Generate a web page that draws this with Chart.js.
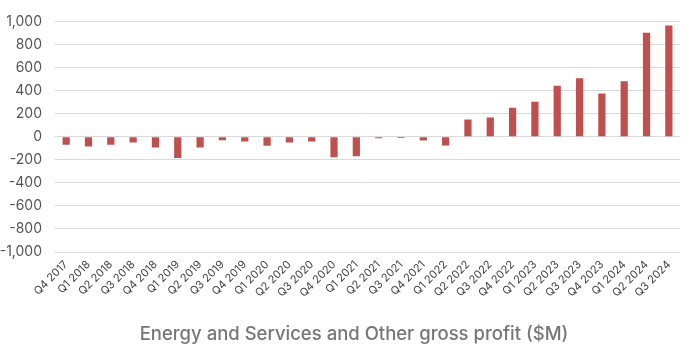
<!DOCTYPE html>
<html>
<head>
<meta charset="utf-8">
<script src="https://cdn.jsdelivr.net/npm/chart.js@4/dist/chart.umd.min.js"></script>
<style>
html,body{margin:0;padding:0;background:#fff;}
#wrap{width:694px;height:352px;position:relative;}
</style>
</head>
<body>
<div id="wrap"><canvas id="c" width="694" height="352"></canvas></div>
<script>
const categories = ["Q4 2017","Q1 2018","Q2 2018","Q3 2018","Q4 2018","Q1 2019","Q2 2019","Q3 2019","Q4 2019","Q1 2020","Q2 2020","Q3 2020","Q4 2020","Q1 2021","Q2 2021","Q3 2021","Q4 2021","Q1 2022","Q2 2022","Q3 2022","Q4 2022","Q1 2023","Q2 2023","Q3 2023","Q4 2023","Q1 2024","Q2 2024","Q3 2024"];
const grossProfit = [-70,-85,-70,-50,-93,-184,-93,-31,-42,-79,-51,-42,-178,-170,-14,-12,-34,-76,150,167,252,303,442,507,374,482,902,965];
const yTicks = {min:-1000, max:1000, step:200};
const axisTitle = "Energy and Services and Other gross profit ($M)";

// let the y tick labels extend into the left layout padding (no clipping)
const unclipY = {
  id: 'unclipY',
  afterLayout(chart) { chart.scales.y.left = 0; }
};

new Chart(document.getElementById('c'), {
  type: 'bar',
  data: {
    labels: categories,
    datasets: [{
      data: grossProfit,
      backgroundColor: '#c0504d',
      borderWidth: 0,
      barPercentage: 0.36,
      categoryPercentage: 0.9
    }]
  },
  plugins: [unclipY],
  options: {
    responsive: false,
    animation: false,
    layout: {padding: {left: 28, right: 14, top: 1.5, bottom: 6}},
    plugins: {
      legend: {display: false}, tooltip: {enabled: false},
      title: {
        display: true, position: 'bottom', text: axisTitle, color: '#777',
        font: {family: 'Inter', size: 18.5, weight: '500'}, padding: {top: 18, bottom: 0}
      }
    },
    scales: {
      x: {
        grid: {display: false, drawTicks: false},
        border: {display: false},
        afterFit: s => { s.paddingLeft = 0; s.paddingRight = 0; },
        ticks: {
          minRotation: 45, maxRotation: 45, autoSkip: false,
          color: '#444', font: {family: 'Inter', size: 11}, padding: 6
        }
      },
      y: {
        min: yTicks.min, max: yTicks.max,
        grid: {color: '#d9d9d9', lineWidth: 1, drawTicks: false},
        border: {display: false},
        afterFit: s => { s.width = 27; },
        ticks: {
          stepSize: yTicks.step, color: '#555', padding: 13,
          font: {family: 'Inter', size: 14},
          callback: v => v.toLocaleString('en-US')
        }
      }
    }
  }
});
</script>
</body>
</html>
